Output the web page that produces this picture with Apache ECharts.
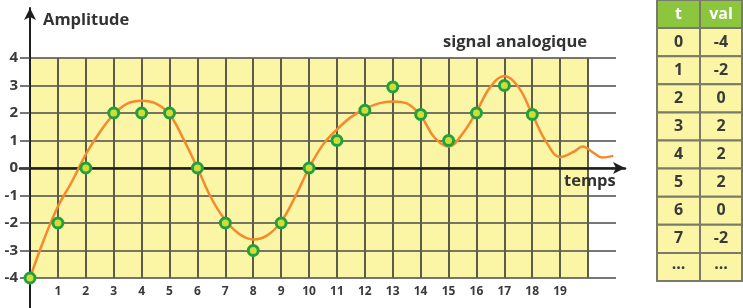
<!DOCTYPE html>
<html><head><meta charset="utf-8">
<script src="https://cdn.jsdelivr.net/npm/echarts@6/dist/echarts.min.js"></script>
<style>html,body{margin:0;padding:0;background:#fff}#c{width:743px;height:308px}</style>
</head><body><div id="c"></div>
<script>
// ---- data ----
const sampleT = [0,1,2,3,4,5,6,7,8,9,10,11,12,13,14,15,16,17,18];
const sampleVal = [-4,-2,0,2,2,2,0,-2,-3,-2,0,1,2.1,2.95,1.95,1,2,3,1.95];
const curveT = [0,0.5,1,1.5,2,2.5,3,3.5,4,4.5,5,5.5,6,6.5,7,7.5,8,8.5,9,9.5,10,10.5,11,11.5,12,12.5,13,13.5,14,14.5,15,15.5,16,16.5,17,17.5,18,18.5,19,19.5,19.8,20.2,20.5,20.9];
const curveVal = [-4,-2.6,-1.4,-0.5,0.5,1.3,1.95,2.35,2.45,2.35,1.95,1.05,0,-1.1,-1.9,-2.4,-2.6,-2.45,-1.95,-1.05,0,0.85,1.4,1.85,2.15,2.35,2.42,2.35,1.9,1.1,0.78,1.25,2.05,2.95,3.35,2.95,1.95,0.95,0.4,0.6,0.78,0.55,0.38,0.44];
const yTicks = [-4,-3,-2,-1,0,1,2,3,4];
const xTickLabels = ['1','2','3','4','5','6','7','8','9','10','11','12','13','14','15','16','17','18','19'];
const tableHead = ['t','val'];
const tableT = ['0','1','2','3','4','5','6','7','...'];
const tableVal = ['-4','-2','0','2','2','2','0','-2','...'];

const YELLOW = '#fbf5a6';
const FONT = '"Open Sans", "DejaVu Sans", sans-serif';
const chart = echarts.init(document.getElementById('c'));

// table graphics
const tbl = [];
const tx = 657, colW = [43, 42], rowH = 28.1, ty = 0;
const allRows = [tableHead].concat(tableT.map((t,i)=>[t, tableVal[i]]));
allRows.forEach((row, r) => {
  let x = tx;
  row.forEach((txt, c) => {
    tbl.push({type:'rect', shape:{x:x, y:ty + r*rowH, width:colW[c], height:rowH},
      style:{fill: r===0 ? '#8cc63f' : YELLOW, stroke:'#7a7a6a', lineWidth:2}, z:10});
    tbl.push({type:'text', x:x + colW[c]/2, y:ty + r*rowH + rowH/2 + (txt==='...'?-3:0),
      style:{text:txt, fill: r===0 ? '#ffffff' : '#3a3a3a', font:'bold 16px ' + FONT, align:'center', verticalAlign:'middle'}, z:11});
    x += colW[c];
  });
});

const option = {
  animation: false,
  backgroundColor: '#ffffff',
  grid: [
    {left:30, top:58, width:558, height:220, show:true, backgroundColor:YELLOW, borderWidth:0},
    {left:30, top:58, width:586, height:220},
    {left:30, top:8, width:10, height:300},
    {left:20, top:58, width:605, height:220}
  ],
  xAxis: [
    {gridIndex:0, type:'value', min:0, max:20, interval:1,
      axisLine:{show:false}, axisTick:{show:false},
      splitLine:{show:true, lineStyle:{color:'#5c5c4c', width:2}},
      axisLabel:{margin:8, color:'#3a3a3a', fontSize:12, fontWeight:'bold', fontFamily:FONT,
        formatter:(v)=> (v>=1 && v<=19) ? xTickLabels[v-1] : ''}},
    {gridIndex:1, type:'value', min:0, max:21, show:false},
    {gridIndex:2, type:'value', min:0, max:1, show:false},
    {gridIndex:3, type:'value', min:0, max:1,
      axisLine:{show:true, onZero:true, symbol:['none','arrow'], symbolSize:[9,12], lineStyle:{color:'#1e1e1e', width:2.5}},
      axisTick:{show:false}, axisLabel:{show:false}, splitLine:{show:false}}
  ],
  yAxis: [
    {gridIndex:0, type:'value', min:-4, max:4, interval:1, show:false},
    {gridIndex:1, type:'value', min:-4, max:4, interval:1,
      axisLine:{show:false},
      axisTick:{show:true, length:10, lineStyle:{color:'#4a4a4a', width:1.5}},
      splitLine:{show:true, lineStyle:{color:'#4a4a4a', width:1.5}},
      axisLabel:{margin:12, color:'#3a3a3a', fontSize:15, fontWeight:'bold', fontFamily:FONT,
        formatter:(v)=> yTicks.indexOf(v) >= 0 ? String(v) : ''}},
    {gridIndex:2, type:'value', min:0, max:1,
      axisLine:{show:true, symbol:['none','arrow'], symbolSize:[9,12], lineStyle:{color:'#1e1e1e', width:2}},
      axisTick:{show:false}, axisLabel:{show:false}, splitLine:{show:false}},
    {gridIndex:3, type:'value', min:-4, max:4, show:false}
  ],
  series: [
    {type:'line', xAxisIndex:1, yAxisIndex:1, smooth:0.4, symbol:'none', z:5,
      lineStyle:{color:'#f58a2c', width:2.5},
      data: curveT.map((t,i)=>[t, curveVal[i]])},
    {type:'scatter', xAxisIndex:1, yAxisIndex:1, symbol:'circle', symbolSize:10, z:6,
      itemStyle:{color:'#cfdc3a', borderColor:'#22a03c', borderWidth:3, opacity:1},
      data: sampleT.map((t,i)=>[t, sampleVal[i]])}
  ],
  graphic: [
    {type:'text', left:43, top:12, style:{text:'Amplitude', fill:'#333333', font:'bold 16.5px ' + FONT}, z:10},
    {type:'text', left:443, top:34, style:{text:'signal analogique', fill:'#333333', font:'bold 16.5px ' + FONT}, z:10},
    {type:'text', left:564, top:173, style:{text:'temps', fill:'#333333', font:'bold 16.5px ' + FONT}, z:10}
  ].concat(tbl)
};
chart.setOption(option);
</script>
</body></html>
